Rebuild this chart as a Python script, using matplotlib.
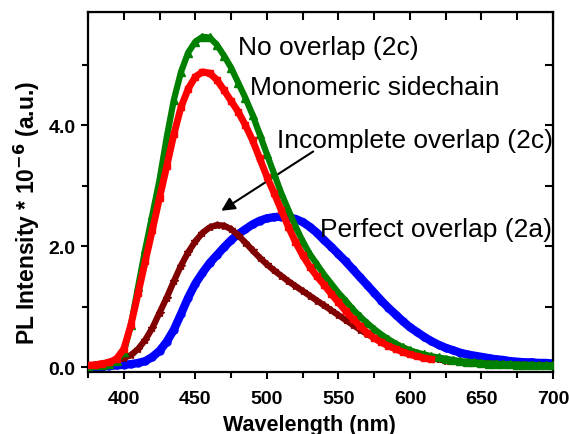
import matplotlib
matplotlib.use("Agg")
import matplotlib.pyplot as plt
from matplotlib.ticker import MultipleLocator

plt.rcParams['font.family'] = ['Liberation Sans', 'DejaVu Sans']

# wavelength grid (nm), 5 nm steps
wl = list(range(375, 705, 5))

# PL intensity * 1e-6 (a.u.)
perfect_2a = [0.0, 0.0, 0.01, 0.02, 0.03, 0.04, 0.05, 0.07, 0.1, 0.17, 0.27, 0.42, 0.62, 0.88,
              1.15, 1.38, 1.56, 1.72, 1.85, 1.98, 2.1, 2.2, 2.28, 2.36, 2.42, 2.46, 2.48, 2.49,
              2.48, 2.45, 2.4, 2.32, 2.22, 2.1, 1.99, 1.87, 1.75, 1.62, 1.49, 1.36, 1.23, 1.1,
              0.98, 0.87, 0.76, 0.66, 0.58, 0.5, 0.43, 0.37, 0.32, 0.28, 0.24, 0.21, 0.19, 0.17,
              0.15, 0.13, 0.12, 0.1, 0.09, 0.08, 0.08, 0.07, 0.07, 0.06]
incomplete_2c = [0.02, 0.04, 0.06, 0.08, 0.11, 0.15, 0.2, 0.3, 0.45, 0.65, 0.9, 1.15, 1.42, 1.68,
                 1.9, 2.08, 2.22, 2.31, 2.35, 2.34, 2.28, 2.18, 2.06, 1.93, 1.81, 1.7, 1.6, 1.51,
                 1.42, 1.34, 1.26, 1.18, 1.1, 1.02, 0.94, 0.86, 0.78, 0.7, 0.62, 0.55, 0.48, 0.42,
                 0.36, 0.31, 0.27, 0.23, 0.2, 0.17, 0.15, 0.13, 0.11, 0.1, 0.09, 0.08, 0.07, 0.06,
                 0.06, 0.05, 0.05, 0.04, 0.04, 0.04, 0.03, 0.03, 0.03, 0.03]
no_overlap_2c = [0.02, 0.03, 0.04, 0.06, 0.1, 0.25, 0.7, 1.33, 1.95, 2.52, 3.1, 3.8, 4.42, 4.88,
                 5.2, 5.38, 5.46, 5.45, 5.33, 5.15, 4.95, 4.7, 4.45, 4.17, 3.85, 3.52, 3.2, 2.88,
                 2.6, 2.33, 2.08, 1.87, 1.7, 1.53, 1.38, 1.23, 1.1, 0.96, 0.84, 0.73, 0.63, 0.54,
                 0.46, 0.39, 0.33, 0.28, 0.24, 0.21, 0.18, 0.16, 0.14, 0.12, 0.1, 0.09, 0.08, 0.07,
                 0.06, 0.06, 0.05, 0.05, 0.04, 0.04, 0.04, 0.03, 0.03, 0.03]
# monomeric sidechain curve stops at 615 nm
wl_mono = list(range(375, 620, 5))
monomeric = [0.03, 0.04, 0.06, 0.08, 0.14, 0.3, 0.7, 1.22, 1.75, 2.27, 2.8, 3.32, 3.85, 4.3,
             4.6, 4.8, 4.88, 4.86, 4.75, 4.58, 4.4, 4.22, 4.0, 3.75, 3.45, 3.15, 2.88, 2.6,
             2.32, 2.07, 1.85, 1.66, 1.5, 1.36, 1.21, 1.07, 0.93, 0.8, 0.68, 0.57, 0.48, 0.41,
             0.35, 0.3, 0.25, 0.21, 0.18, 0.15, 0.13]

fig = plt.figure(figsize=(5.69, 4.35), dpi=100)
ax = fig.add_axes([0.1547, 0.1425, 0.8172, 0.8275])

ax.plot(wl, perfect_2a, color='#0000ff', lw=6, marker='o', ms=5, mec='#0000ff', zorder=2)
ax.plot(wl, incomplete_2c, color='#800000', lw=4.5, marker='*', ms=6, mec='#800000', zorder=3)
ax.plot(wl, no_overlap_2c, color='#008000', lw=4.5, marker='^', ms=6, mec='#008000', zorder=4)
ax.plot(wl_mono, monomeric, color='#ff0000', lw=5, marker='s', ms=5, mec='#ff0000', zorder=5)

ax.set_xlim(375, 700)
ax.set_ylim(-0.08, 5.87)
ax.xaxis.set_major_locator(MultipleLocator(50))
ax.xaxis.set_minor_locator(MultipleLocator(25))
ax.yaxis.set_major_locator(MultipleLocator(2))
ax.yaxis.set_minor_locator(MultipleLocator(1))
ax.yaxis.set_major_formatter(lambda v, p: f"{v:.1f}")

ax.tick_params(which='major', direction='out', length=5, width=1.5, labelsize=14)
ax.tick_params(axis='x', which='major', pad=8)
ax.tick_params(axis='y', which='major', pad=4)
ax.tick_params(which='minor', direction='out', length=4, width=1.5)
for lab in ax.get_xticklabels() + ax.get_yticklabels():
    lab.set_fontweight('bold')
for s in ax.spines.values():
    s.set_linewidth(1.6)

# inward mirror ticks on top and right
top = ax.secondary_xaxis('top')
top.xaxis.set_major_locator(MultipleLocator(25))
top.tick_params(direction='in', length=6, width=1.5, labeltop=False)
right = ax.secondary_yaxis('right')
right.yaxis.set_major_locator(MultipleLocator(1))
right.tick_params(direction='in', length=6, width=1.5, labelright=False)

ax.set_xlabel('Wavelength (nm)', fontsize=15.5, fontweight='bold')
ax.xaxis.set_label_coords(0.477, -0.117, transform=ax.transAxes)
ax.xaxis.label.set_va('top')
ax.set_ylabel('PL Intensity * 10$^{\\mathbf{-6}}$ (a.u.)', fontsize=16.5, fontweight='bold')
ax.yaxis.set_label_coords(-0.131, 0.444, transform=ax.transAxes)
ax.yaxis.label.set_va('center')

ax.text(480, 5.29, 'No overlap (2c)', fontsize=19, va='center', ha='left')
ax.text(488, 4.63, 'Monomeric sidechain', fontsize=19, va='center', ha='left')
ax.text(507, 3.75, 'Incomplete overlap (2c)', fontsize=19, va='center', ha='left')
ax.text(537, 2.28, 'Perfect overlap (2a)', fontsize=19, va='center', ha='left')
ax.annotate('', xy=(466.5, 2.56), xytext=(534, 3.59),
            arrowprops=dict(arrowstyle='-|>', color='black', lw=1.5, mutation_scale=20))

fig.savefig('out.png', dpi=100)
